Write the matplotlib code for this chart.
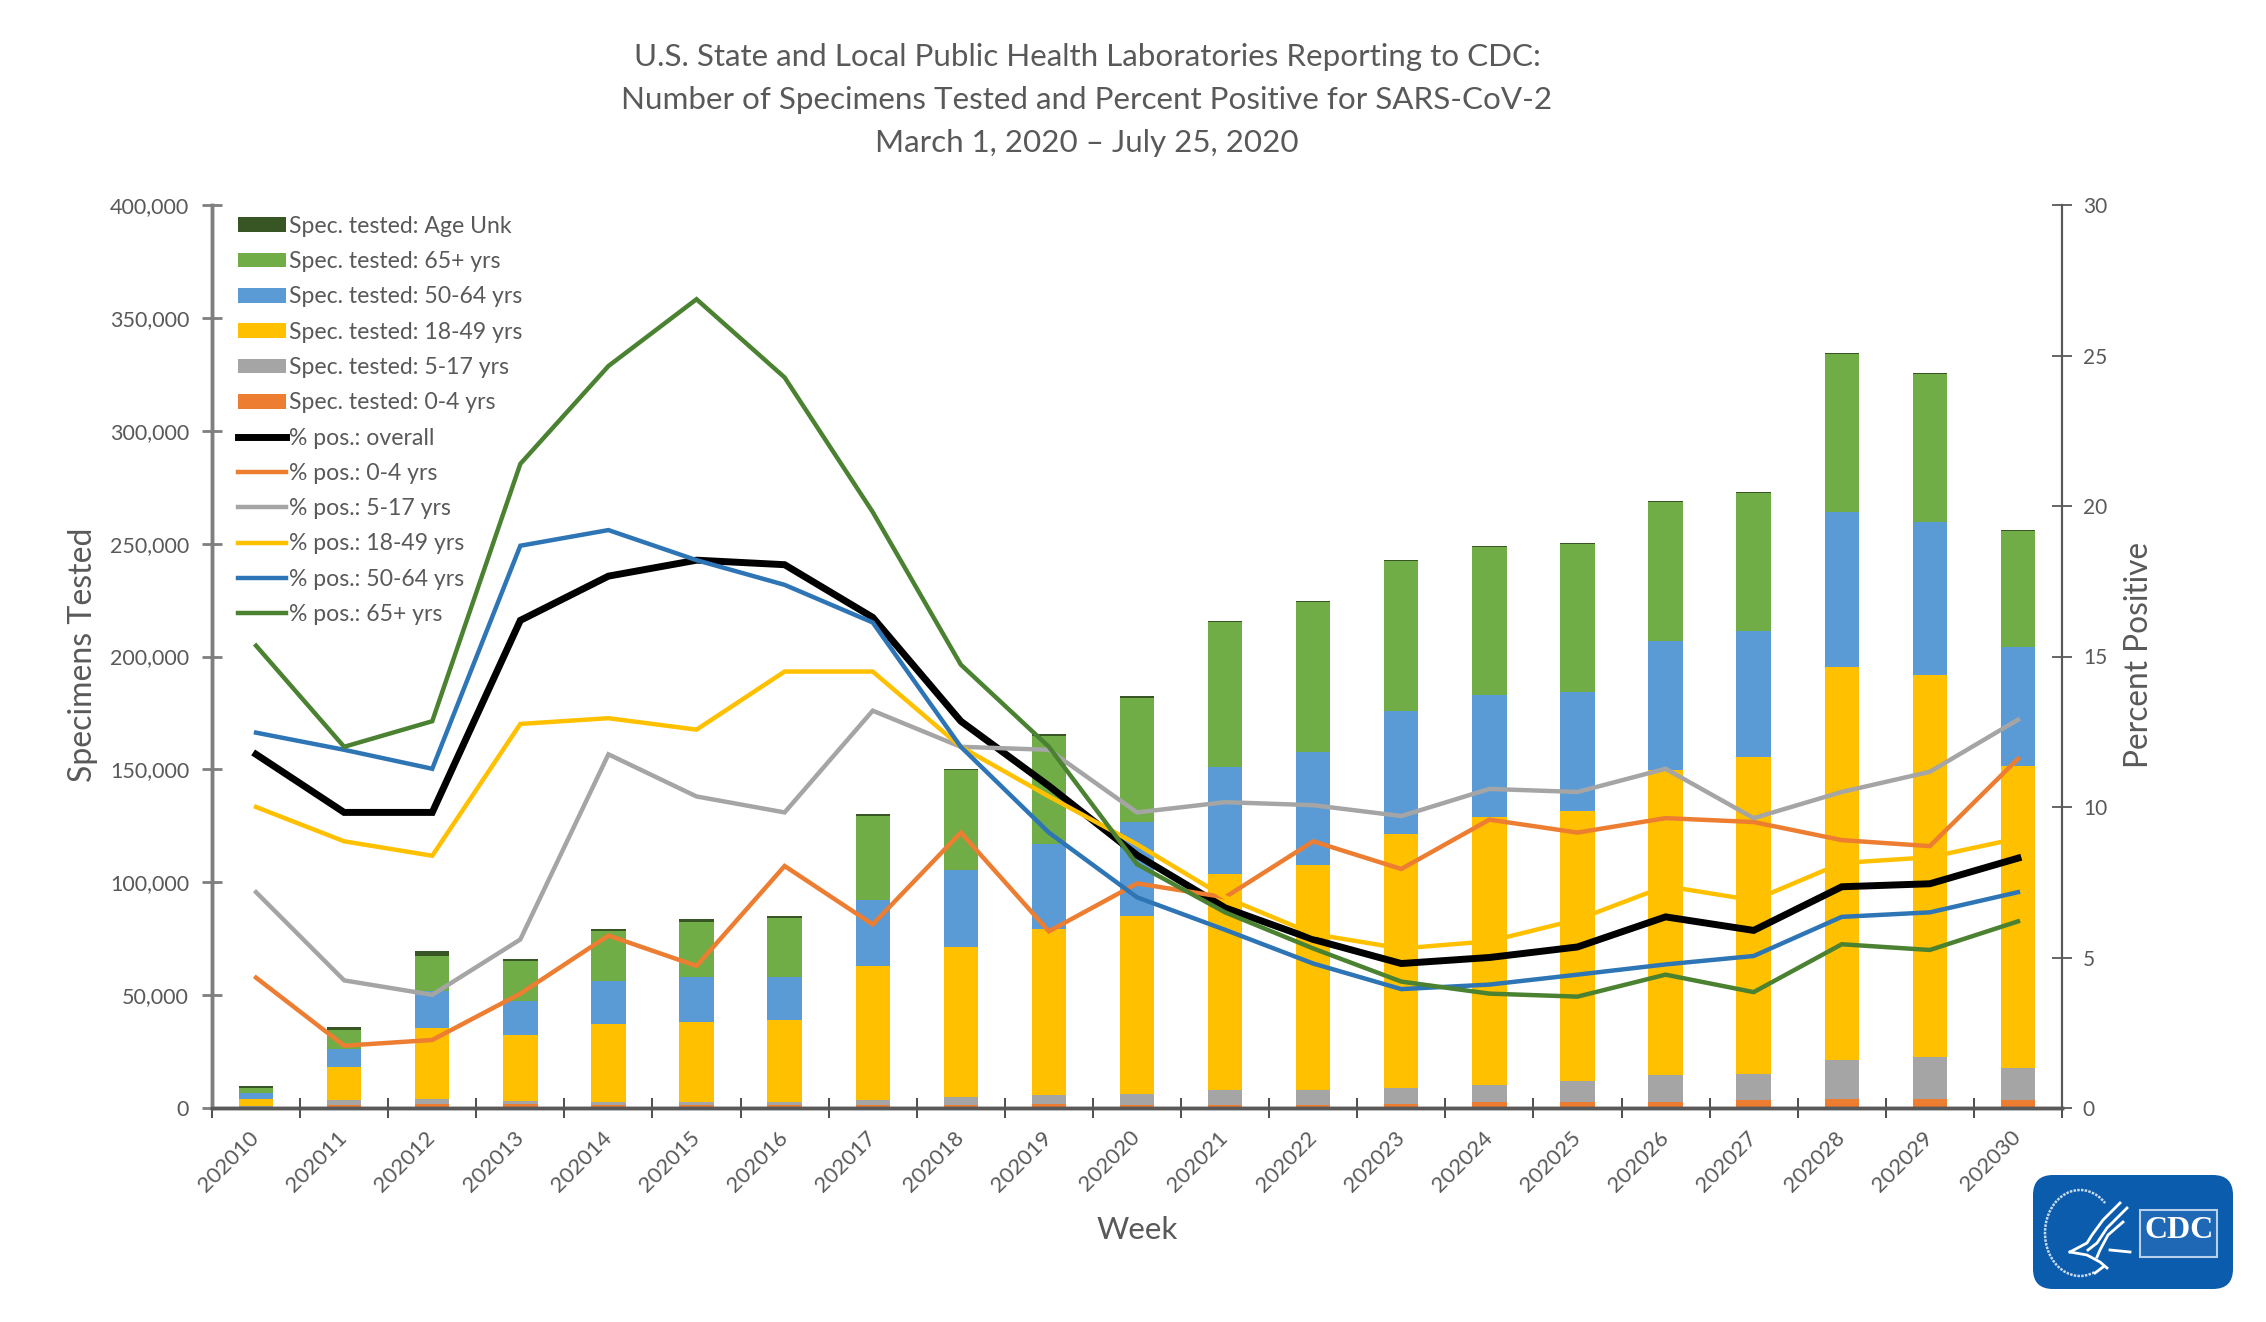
import matplotlib
matplotlib.use("Agg")
import matplotlib.pyplot as plt
import numpy as np
from matplotlib.patches import FancyBboxPatch, Rectangle, Arc

W, H = 2266, 1322

weeks = [str(w) for w in range(202010, 202031)]

spec_0_4 = [300, 1200, 1800, 1800, 1200, 1200, 1200, 1200, 1500, 1800, 1500,
            1500, 1500, 1800, 2700, 2700, 2700, 3400, 3800, 3800, 3400]
spec_5_17 = [400, 2200, 2300, 1150, 1460, 1460, 1300, 2200, 3200, 3800, 4700,
             6300, 6300, 7100, 7600, 9300, 11800, 11800, 17300, 18800, 14300]
spec_18_49 = [3400, 14900, 31300, 29250, 34540, 35440, 36300, 59400, 66500, 73900, 78800,
              95900, 100000, 112600, 118600, 119500, 135100, 140300, 174100, 169400, 133700]
spec_50_64 = [2550, 8000, 16300, 15400, 18900, 19800, 19100, 29400, 34400, 37500, 41700,
              47500, 49900, 54300, 54100, 52800, 57100, 55700, 68700, 67400, 52800]
spec_65 = [2250, 8400, 15500, 17400, 22500, 24600, 26300, 37300, 44000, 48000, 55000,
           64100, 66600, 66500, 65700, 65700, 61900, 61300, 70200, 65700, 51600]
spec_unk = [700, 1200, 2200, 1200, 900, 1200, 800, 800, 600, 600, 600,
            400, 400, 400, 400, 400, 400, 500, 400, 400, 400]

pos_overall = [11.75, 9.82, 9.82, 16.2, 17.67, 18.2, 18.05, 16.3, 12.85, 10.7, 8.4,
               6.65, 5.6, 4.8, 5.0, 5.35, 6.35, 5.9, 7.35, 7.45, 8.3]
pos_0_4 = [4.33, 2.07, 2.26, 3.8, 5.73, 4.72, 8.04, 6.1, 9.15, 5.87, 7.46,
           7.0, 8.86, 7.94, 9.58, 9.15, 9.63, 9.5, 8.9, 8.7, 11.6]
pos_5_17 = [7.17, 4.24, 3.76, 5.6, 11.75, 10.35, 9.82, 13.2, 12.0, 11.9, 9.82,
            10.16, 10.06, 9.7, 10.6, 10.5, 11.27, 9.63, 10.5, 11.17, 12.9]
pos_18_49 = [10.0, 8.86, 8.38, 12.76, 12.95, 12.57, 14.5, 14.5, 12.0, 10.35, 8.76,
             7.0, 5.78, 5.3, 5.54, 6.26, 7.37, 6.9, 8.14, 8.33, 8.96]
pos_50_64 = [12.47, 11.9, 11.27, 18.68, 19.2, 18.2, 17.38, 16.13, 12.0, 9.15, 7.0,
             5.92, 4.8, 3.95, 4.1, 4.43, 4.77, 5.05, 6.35, 6.5, 7.17]
pos_65 = [15.36, 12.0, 12.85, 21.4, 24.65, 26.87, 24.27, 19.8, 14.73, 12.0, 8.1,
          6.5, 5.3, 4.2, 3.8, 3.7, 4.43, 3.85, 5.44, 5.25, 6.2]

bar_series = [
    ("Spec. tested: 0-4 yrs", spec_0_4, "#ED7D31"),
    ("Spec. tested: 5-17 yrs", spec_5_17, "#A5A5A5"),
    ("Spec. tested: 18-49 yrs", spec_18_49, "#FFC000"),
    ("Spec. tested: 50-64 yrs", spec_50_64, "#5B9BD5"),
    ("Spec. tested: 65+ yrs", spec_65, "#70AD47"),
    ("Spec. tested: Age Unk", spec_unk, "#375623"),
]
line_series = [
    ("% pos.: overall", pos_overall, "#000000", 5.0),
    ("% pos.: 0-4 yrs", pos_0_4, "#ED7D31", 3.2),
    ("% pos.: 5-17 yrs", pos_5_17, "#A5A5A5", 3.2),
    ("% pos.: 18-49 yrs", pos_18_49, "#FFC000", 3.2),
    ("% pos.: 50-64 yrs", pos_50_64, "#2E75B6", 3.2),
    ("% pos.: 65+ yrs", pos_65, "#4B8231", 3.2),
]

TEXT = "#595959"
plt.rcParams["font.family"] = ["Lato", "DejaVu Sans"]

fig = plt.figure(figsize=(W / 100, H / 100), dpi=100)
left, right, top, bottom = 212, 2062, 205, 1108
ax = fig.add_axes([left / W, 1 - bottom / H, (right - left) / W, (bottom - top) / H])
ax2 = ax.twinx()

x = np.arange(len(weeks))
base = np.zeros(len(weeks))
bar_handles = []
for label, vals, color in bar_series:
    bars = ax.bar(x, vals, 0.39, bottom=base, color=color, label=label)
    bar_handles.append(bars)
    base += np.array(vals)

line_handles = []
for label, vals, color, lw in line_series:
    ln, = ax2.plot(x, vals, color=color, linewidth=lw, label=label, solid_joinstyle="miter")
    line_handles.append(ln)

ax.set_xlim(-0.5, len(weeks) - 0.5)
ax.set_ylim(0, 400000)
ax2.set_ylim(0, 30)

ax.set_yticks(np.arange(0, 400001, 50000))
ax.set_yticklabels([f"{v:,}" for v in range(0, 400001, 50000)])
ax.tick_params(axis="y", direction="inout", length=15, width=2, color="#7F7F7F",
               labelsize=15.5, labelcolor=TEXT, pad=9)
ax2.set_yticks(np.arange(0, 31, 5))
ax2.tick_params(axis="y", direction="inout", length=14, width=1.3, color="#595959",
                labelsize=15, labelcolor=TEXT, pad=8)

ax.set_xticks(x)
ax.set_xticklabels(weeks, rotation=45, ha="right", va="center", rotation_mode="anchor")
ax.set_xticks(np.arange(-0.5, len(weeks)), minor=True)
ax.tick_params(axis="x", which="major", length=0, labelsize=15.8, labelcolor=TEXT, pad=19)
ax.tick_params(axis="x", which="minor", direction="inout", length=15, width=1.3, color="#404040")

for a in (ax, ax2):
    a.spines["top"].set_visible(False)
    a.spines["left"].set_color("#7F7F7F")
    a.spines["left"].set_linewidth(2.5)
    a.spines["right"].set_color("#595959")
    a.spines["right"].set_linewidth(1.5)
    a.spines["bottom"].set_color("#595959")
    a.spines["bottom"].set_linewidth(2.5)

handles = [b for b in reversed(bar_handles)] + line_handles
labels = [h.get_label() for h in handles]
ax2.legend(handles, labels, loc="upper left", bbox_to_anchor=(26 / 1850, 0.988),
           frameon=False, fontsize=16.6, labelcolor=TEXT, handlelength=2.1,
           handleheight=0.6, handletextpad=0.12, labelspacing=0.62, borderpad=0,
           borderaxespad=0)

fig.text(83 / W, 1 - 655 / H, "Specimens Tested", rotation=90, ha="center", va="center",
         fontsize=23, color=TEXT)
fig.text(2139 / W, 1 - 655 / H, "Percent Positive", rotation=90, ha="center", va="center",
         fontsize=22.8, color=TEXT)
fig.text(1137 / W, 1 - 1230 / H, "Week", ha="center", va="center", fontsize=22.5, color=TEXT)

title_lines = ["U.S. State and Local Public Health Laboratories Reporting to CDC:",
               "Number of Specimens Tested and Percent Positive for SARS-CoV-2",
               "March 1, 2020 \u2013 July 25, 2020"]
for line, y in zip(title_lines, [57, 100, 143]):
    fig.text(1087 / W, 1 - y / H, line, ha="center", va="center", fontsize=22.6, color=TEXT)

# logo, drawn in pixel coordinates on an overlay
over = fig.add_axes([0, 0, 1, 1], zorder=5)
over.set_xlim(0, W)
over.set_ylim(H, 0)
over.axis("off")
over.add_patch(FancyBboxPatch((2033, 1175), 200, 114, boxstyle="round,pad=0,rounding_size=20",
                              mutation_scale=1, linewidth=0, facecolor="#0B5CAD"))
over.add_patch(Arc((2080, 1233), 70, 86, theta1=70, theta2=310, color="#C8DAEE", lw=1.8,
                   linestyle=(0, (1, 0.5))))
strands_x = [[2120, 2103, 2092, 2087, 2070],
             [2127, 2107, 2097, 2088],
             [2123, 2108, 2100, 2097],
             [2070, 2087, 2100, 2107],
             [2095, 2103],
             [2110, 2130]]
strands_y = [[1203, 1220, 1235, 1243, 1252],
             [1208, 1228, 1243, 1250],
             [1222, 1235, 1250, 1257],
             [1252, 1255, 1262, 1268],
             [1273, 1267],
             [1250, 1252]]
for sx, sy in zip(strands_x, strands_y):
    over.plot(sx, sy, color="white", lw=2.0)
over.add_patch(Rectangle((2140, 1210), 77, 47, facecolor="#1E68B6", edgecolor="#B9D0EA", lw=1.5))
over.text(2179, 1231, "CDC", color="white", ha="center", va="center", fontsize=23,
          fontweight="bold", family="Liberation Serif")

fig.savefig("out.png", dpi=100)
plt.close(fig)
